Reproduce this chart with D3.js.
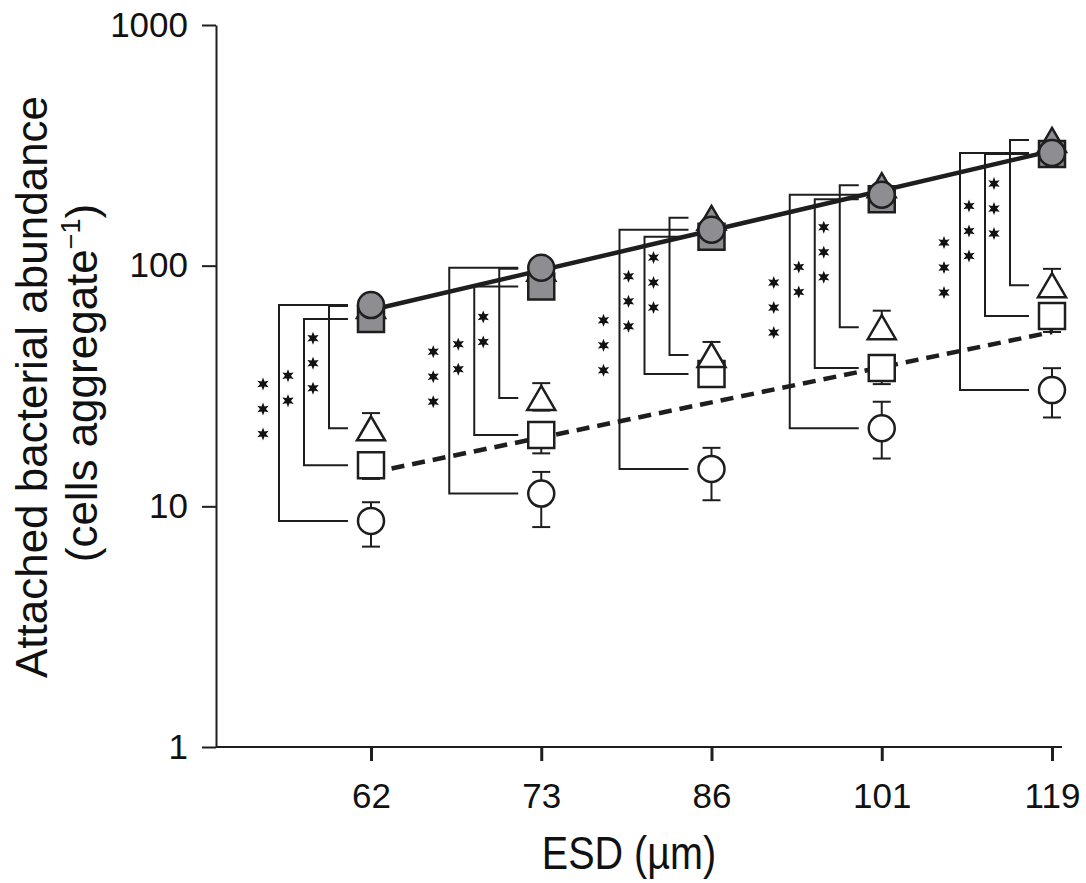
<!DOCTYPE html>
<html>
<head>
<meta charset="utf-8">
<script src="https://cdn.jsdelivr.net/npm/d3@7"></script>
<style>
  body { margin: 0; background: #fff; }
  svg { display: block; font-family: "Liberation Sans", Arial, Helvetica, sans-serif; }
</style>
</head>
<body>
<div id="chart"></div>
<script>
'use strict';

// ESD categories (µm)
const esd = ['62', '73', '86', '101', '119'];
const yTicks = [1, 10, 100, 1000];

// gray (filled) series
const grayCircle = [68.6, 98, 141, 197, 294];
const graySquare = [60, 82, 132, 189, 291];
const grayTriangle = [68, 97, 158, 216, 333];

// open series, with error bar ends
const openCircle = [8.7, 11.3, 14.3, 21.1, 30.4];
const openCircleHi = [10.4, 13.9, 17.5, 27.2, 37.5];
const openCircleLo = [6.8, 8.2, 10.6, 15.8, 23.4];

const openSquare = [14.8, 19.8, 35.5, 37.6, 61.8];
const openSquareHi = [16.5, 22, 38, 41, 66];
const openSquareLo = [13.0, 16.6, 33, 32.2, 53];

const openTriangle = [21.1, 28.2, 42.5, 55.5, 83];
const openTriangleHi = [24.4, 32.5, 48.2, 65, 97];
const openTriangleLo = [19, 25, 38, 50, 75];

// number of significance stars per bracket
const starsCircle = [3, 3, 3, 3, 3];
const starsSquare = [2, 2, 3, 2, 3];
const starsTriangle = [3, 2, 3, 3, 3];

// fitted lines, value at first and last ESD
const solidFit = [65.4, 300];
const dashedFit = [13.8, 53];

const W = 1086, H = 883;
const axisLeftX = 216, axisRightX = 1062;
const ink = '#1e1e1e';
const grayFill = '#8d8d92';

const svg = d3.select('#chart').append('svg')
    .attr('width', W)
    .attr('height', H);

const x = d3.scalePoint().domain(esd).range([371, 1052]);
const y = d3.scaleLog().domain([1, 1000]).range([747, 25]);

// axes
const yAxis = svg.append('g')
    .attr('transform', `translate(${axisLeftX},0)`)
    .call(d3.axisLeft(y).tickValues(yTicks).tickFormat(d3.format('d'))
        .tickSize(14).tickSizeOuter(0).tickPadding(14));
yAxis.select('.domain').attr('stroke', ink).attr('stroke-width', 2);
yAxis.selectAll('.tick line').attr('stroke', ink).attr('stroke-width', 2);
yAxis.selectAll('.tick text').attr('font-size', 35).attr('fill', '#111');

const xAxis = svg.append('g')
    .attr('transform', `translate(0,${y(1)})`)
    .call(d3.axisBottom(x).tickSize(14).tickSizeOuter(0).tickPadding(22));
xAxis.select('.domain').remove();
xAxis.selectAll('.tick line').attr('stroke', ink).attr('stroke-width', 3);
xAxis.selectAll('.tick text').attr('font-size', 35).attr('fill', '#111');

svg.append('line')
    .attr('x1', axisLeftX).attr('x2', axisRightX)
    .attr('y1', y(1)).attr('y2', y(1))
    .attr('stroke', ink).attr('stroke-width', 2);

// axis titles
svg.append('text')
    .attr('transform', 'translate(629,869) scale(0.86,1)')
    .attr('text-anchor', 'middle')
    .attr('font-size', 46)
    .attr('fill', '#111')
    .text('ESD (µm)');

svg.append('text')
    .attr('transform', 'translate(47,387) rotate(-90)')
    .attr('text-anchor', 'middle')
    .attr('font-size', 44)
    .attr('fill', '#111')
    .text('Attached bacterial abundance');

const yl2 = svg.append('text')
    .attr('transform', 'translate(97,383) rotate(-90)')
    .attr('text-anchor', 'middle')
    .attr('font-size', 44)
    .attr('fill', '#111');
yl2.append('tspan').text('(cells aggregate');
yl2.append('tspan').attr('font-size', 27).attr('dy', -17).text('\u22121');
yl2.append('tspan').attr('dy', 17).text(')');

// brackets comparing gray vs open for each shape
const brackets = [
    {top: grayCircle, bottom: openCircle, stars: starsCircle, offset: -92},
    {top: graySquare, bottom: openSquare, stars: starsSquare, offset: -67},
    {top: grayTriangle, bottom: openTriangle, stars: starsTriangle, offset: -42}
];

const bracketG = svg.append('g')
    .attr('fill', 'none')
    .attr('stroke', ink)
    .attr('stroke-width', 2);

brackets.forEach((b) => {
    esd.forEach((c, i) => {
        const bx = x(c) + b.offset;
        const ex = x(c) - 23;
        bracketG.append('path')
            .attr('d', `M${ex},${y(b.top[i])}H${bx}V${y(b.bottom[i])}H${ex}`);
    });
});

// fitted lines
const fitLine = d3.line()
    .x((d) => d[0])
    .y((d) => y(d[1]));
const ends = [esd[0], esd[esd.length - 1]];

svg.append('path')
    .attr('d', fitLine(ends.map((c, i) => [x(c), solidFit[i]])))
    .attr('fill', 'none')
    .attr('stroke', ink)
    .attr('stroke-width', 4.5);

svg.append('path')
    .attr('d', fitLine(ends.map((c, i) => [x(c), dashedFit[i]])))
    .attr('fill', 'none')
    .attr('stroke', ink)
    .attr('stroke-width', 4.5)
    .attr('stroke-dasharray', '13,8');

// stars
function starPath(r1, r2) {
    const pts = [];
    for (let k = 0; k < 12; k++) {
        const r = k % 2 === 0 ? r1 : r2;
        const a = Math.PI * k / 6 - Math.PI / 2;
        pts.push([r * Math.cos(a), r * Math.sin(a)]);
    }
    return 'M' + pts.map((p) => p.join(',')).join('L') + 'Z';
}
const star = starPath(6.5, 3);

const starG = svg.append('g').attr('fill', '#111');
brackets.forEach((b) => {
    esd.forEach((c, i) => {
        const sx = x(c) + b.offset - 16;
        const mid = (y(b.top[i]) + y(b.bottom[i])) / 2 - 4;
        const n = b.stars[i];
        for (let k = 0; k < n; k++) {
            const sy = mid + (k - (n - 1) / 2) * 25;
            starG.append('path')
                .attr('d', star)
                .attr('transform', `translate(${sx},${sy})`);
        }
    });
});

// error bars
const errG = svg.append('g').attr('stroke', ink).attr('stroke-width', 2);
[[openCircle, openCircleHi, openCircleLo],
 [openSquare, openSquareHi, openSquareLo],
 [openTriangle, openTriangleHi, openTriangleLo]].forEach((s) => {
    esd.forEach((c, i) => {
        const cx = x(c);
        errG.append('line').attr('x1', cx).attr('x2', cx)
            .attr('y1', y(s[1][i])).attr('y2', y(s[2][i]));
        [s[1][i], s[2][i]].forEach((v) => {
            errG.append('line').attr('x1', cx - 9).attr('x2', cx + 9)
                .attr('y1', y(v)).attr('y2', y(v));
        });
    });
});

// markers
const markerPaths = {
    circle: 'M13,0A13,13 0 1,1 -13,0A13,13 0 1,1 13,0Z',
    square: 'M-13,-13H13V13H-13Z',
    triangle: 'M0,-12L14,12H-14Z'
};

function drawMarkers(values, shape, fill) {
    svg.append('g').selectAll('path')
        .data(values)
        .join('path')
        .attr('d', markerPaths[shape])
        .attr('transform', (d, i) => `translate(${x(esd[i])},${y(d)})`)
        .attr('fill', fill)
        .attr('stroke', ink)
        .attr('stroke-width', 2.5);
}

drawMarkers(grayTriangle, 'triangle', grayFill);
drawMarkers(graySquare, 'square', grayFill);
drawMarkers(grayCircle, 'circle', grayFill);
drawMarkers(openSquare, 'square', '#fff');
drawMarkers(openTriangle, 'triangle', '#fff');
drawMarkers(openCircle, 'circle', '#fff');
</script>
</body>
</html>
